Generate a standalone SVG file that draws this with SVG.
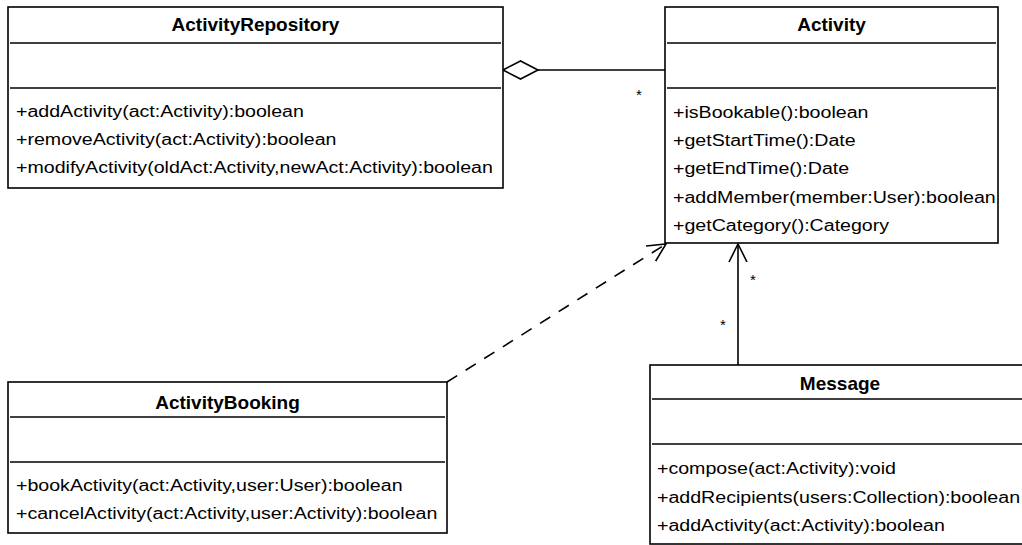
<svg xmlns="http://www.w3.org/2000/svg" width="1022" height="545" viewBox="0 0 1022 545">
  <style>
    .box { fill: #ffffff; stroke: #000000; stroke-width: 1.6; }
    .sep { stroke: #000000; stroke-width: 1.6; }
    .title { font-family: "Liberation Sans", Arial, sans-serif; font-size: 19px; font-weight: bold; text-anchor: middle; fill: #000; }
    .op { font-family: "Liberation Sans", Arial, sans-serif; font-size: 16px; fill: #000; }
    .mult { font-family: "Liberation Sans", Arial, sans-serif; font-size: 15px; fill: #000; }
    .link { fill: none; stroke: #000000; stroke-width: 1.6; }
  </style>
  <defs>
    <marker id="open-arrow" viewBox="0 0 20 20" refX="18" refY="10" markerWidth="20" markerHeight="20" markerUnits="userSpaceOnUse" orient="auto">
      <path d="M0,1 L18,10 L0,19" fill="none" stroke="#000" stroke-width="1.6"/>
    </marker>
  </defs>

  <g id="connectors">
    <!-- aggregation: ActivityRepository <>—— Activity -->
    <path class="link" d="M538,70 L665,70"/>
    <path d="M503,70 L520.5,61 L538,70 L520.5,79 Z" fill="#fff" stroke="#000" stroke-width="1.6"/>
    <text class="mult" x="639" y="100" text-anchor="middle">*</text>
    <!-- dependency: ActivityBooking - - -> Activity -->
    <path class="link" d="M447,382 L666,244" stroke-dasharray="12,10" marker-end="url(#open-arrow)"/>
    <!-- association: Message ——> Activity -->
    <path class="link" d="M738,365 L738,244" marker-end="url(#open-arrow)"/>
    <text class="mult" x="753" y="285" text-anchor="middle">*</text>
    <text class="mult" x="723" y="330" text-anchor="middle">*</text>
  </g>

  <g id="ActivityRepository">
    <rect class="box" x="8" y="7" width="495" height="181"/>
    <line class="sep" x1="10" y1="43" x2="501" y2="43"/>
    <line class="sep" x1="10" y1="88" x2="501" y2="88"/>
    <text class="title" x="255.5" y="31">ActivityRepository</text>
    <text class="op" transform="translate(16,116.5) scale(1.225,1)">+addActivity(act:Activity):boolean</text>
    <text class="op" transform="translate(16,144.5) scale(1.225,1)">+removeActivity(act:Activity):boolean</text>
    <text class="op" transform="translate(16,172.5) scale(1.225,1)">+modifyActivity(oldAct:Activity,newAct:Activity):boolean</text>
  </g>

  <g id="Activity">
    <rect class="box" x="665" y="7" width="333" height="236"/>
    <line class="sep" x1="667" y1="43" x2="996" y2="43"/>
    <line class="sep" x1="667" y1="88" x2="996" y2="88"/>
    <text class="title" x="831.5" y="31">Activity</text>
    <text class="op" transform="translate(673,118) scale(1.225,1)">+isBookable():boolean</text>
    <text class="op" transform="translate(673,146) scale(1.225,1)">+getStartTime():Date</text>
    <text class="op" transform="translate(673,174) scale(1.225,1)">+getEndTime():Date</text>
    <text class="op" transform="translate(673,202.5) scale(1.225,1)">+addMember(member:User):boolean</text>
    <text class="op" transform="translate(673,231) scale(1.225,1)">+getCategory():Category</text>
  </g>

  <g id="ActivityBooking">
    <rect class="box" x="8" y="382" width="439" height="151"/>
    <line class="sep" x1="10" y1="417" x2="445" y2="417"/>
    <line class="sep" x1="10" y1="462" x2="445" y2="462"/>
    <text class="title" x="227.5" y="409">ActivityBooking</text>
    <text class="op" transform="translate(16,491) scale(1.225,1)">+bookActivity(act:Activity,user:User):boolean</text>
    <text class="op" transform="translate(16,519) scale(1.225,1)">+cancelActivity(act:Activity,user:Activity):boolean</text>
  </g>

  <g id="Message">
    <rect class="box" x="650" y="365" width="390" height="179"/>
    <line class="sep" x1="652" y1="399" x2="1030" y2="399"/>
    <line class="sep" x1="652" y1="444" x2="1030" y2="444"/>
    <text class="title" x="840" y="390">Message</text>
    <text class="op" transform="translate(657,474) scale(1.225,1)">+compose(act:Activity):void</text>
    <text class="op" transform="translate(657,503) scale(1.225,1)">+addRecipients(users:Collection):boolean</text>
    <text class="op" transform="translate(657,531) scale(1.225,1)">+addActivity(act:Activity):boolean</text>
  </g>
</svg>
